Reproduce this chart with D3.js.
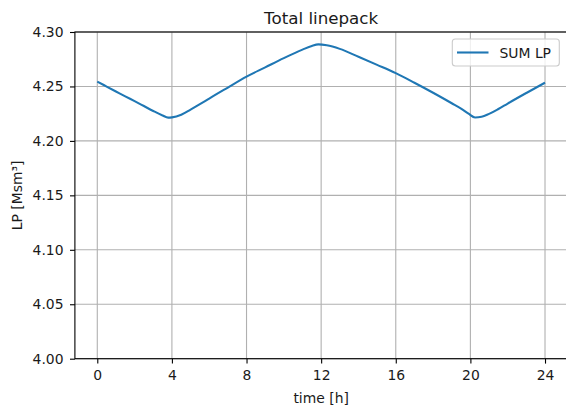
<!DOCTYPE html>
<html>
<head>
<meta charset="utf-8">
<script src="https://cdn.jsdelivr.net/npm/d3@7"></script>
<style>
  body { margin: 0; background: #fff; }
  svg text { font-family: "DejaVu Sans", sans-serif; fill: #1a1a1a; }
</style>
</head>
<body>
<svg class="lpchart"></svg>
<script>
// TOTAL LINEPACK LINE CHART

// values (time in hours, linepack in Msm3)
let hours = [0, 0.5, 1, 1.5, 2, 2.5, 3, 3.5, 3.8, 4, 4.5, 5, 5.5, 6, 7, 8, 9, 10, 11,
             11.5, 11.85, 12.3, 13, 14, 15, 16, 17, 18, 19, 19.5, 19.9, 20.25, 20.6, 21,
             21.5, 22, 23, 24];
let sum_lp = [4.2544, 4.2499, 4.2454, 4.2409, 4.2365, 4.2320, 4.2275, 4.2234, 4.2214, 4.2216,
              4.2240, 4.2287, 4.2337, 4.2389, 4.2490, 4.2590, 4.2675, 4.2760, 4.2838,
              4.2872, 4.2886, 4.2878, 4.2845, 4.2772, 4.2698, 4.2622, 4.2534, 4.2442, 4.2346,
              4.2297, 4.2250, 4.2215, 4.2221, 4.2248, 4.2293, 4.2343, 4.2440, 4.2535];
let x_ticks = [0, 4, 8, 12, 16, 20, 24];
let y_ticks = [4.00, 4.05, 4.10, 4.15, 4.20, 4.25, 4.30];

let w = 566;
let h = 412;

let svg = d3.select("svg.lpchart")
    .attr("width", w)
    .attr("height", h);

let left = 74.9;
let right = 567.4;   // right spine falls just outside the picture
let top_space = 32;
let bottom = 358.7;

let x = d3.scaleLinear()
    .domain([-1.2, 25.2])
    .range([left, right]);

let y = d3.scaleLinear()
    .domain([4.00, 4.30])
    .range([bottom, top_space]);

// grid
let grid = svg.append("g").attr("class", "grid");
grid.selectAll("line.vx")
    .data(x_ticks)
    .enter()
    .append("line")
    .attr("x1", d => x(d)).attr("x2", d => x(d))
    .attr("y1", top_space).attr("y2", bottom)
    .attr("stroke", "#b0b0b0")
    .attr("stroke-width", 1.1);
grid.selectAll("line.hy")
    .data(y_ticks)
    .enter()
    .append("line")
    .attr("x1", left).attr("x2", right)
    .attr("y1", d => y(d)).attr("y2", d => y(d))
    .attr("stroke", "#b0b0b0")
    .attr("stroke-width", 1.1);

// axes
let x_axis = svg.append("g")
    .attr("transform", "translate(0," + bottom + ")")
    .call(d3.axisBottom(x).tickValues(x_ticks).tickFormat(d3.format("d"))
        .tickSize(4.9).tickPadding(6.5));

let y_axis = svg.append("g")
    .attr("transform", "translate(" + left + ",0)")
    .call(d3.axisLeft(y).tickValues(y_ticks).tickFormat(d3.format(".2f"))
        .tickSize(4.9).tickPadding(6.5));

[x_axis, y_axis].forEach(a => {
    a.selectAll("path.domain").remove();
    a.selectAll(".tick line").attr("stroke", "#000").attr("stroke-width", 1.1);
    a.selectAll(".tick text")
        .style("font", "13.9px 'DejaVu Sans', sans-serif")
        .attr("fill", "#1a1a1a");
});

// spines
svg.append("rect")
    .attr("x", left)
    .attr("y", top_space)
    .attr("width", right - left)
    .attr("height", bottom - top_space)
    .attr("fill", "none")
    .attr("stroke", "#000")
    .attr("stroke-width", 1.1);

// the series
let line = d3.line()
    .x((d, i) => x(hours[i]))
    .y(d => y(d))
    .curve(d3.curveMonotoneX);

svg.append("path")
    .datum(sum_lp)
    .attr("d", line)
    .attr("fill", "none")
    .attr("stroke", "#1f77b4")
    .attr("stroke-width", 2.1)
    .attr("stroke-linejoin", "round");

// title and axis labels
svg.append("text")
    .attr("x", (left + right) / 2)
    .attr("y", 23.5)
    .attr("text-anchor", "middle")
    .attr("font-size", "16.7px")
    .text("Total linepack");

svg.append("text")
    .attr("x", (left + right) / 2)
    .attr("y", 402.5)
    .attr("text-anchor", "middle")
    .attr("font-size", "13.9px")
    .text("time [h]");

svg.append("text")
    .attr("transform", "translate(22," + ((top_space + bottom) / 2) + ") rotate(-90)")
    .attr("text-anchor", "middle")
    .attr("font-size", "13.9px")
    .text("LP [Msm³]");

// legend
let legend = svg.append("g").attr("class", "legend");
legend.append("rect")
    .attr("x", 452.3)
    .attr("y", 39)
    .attr("width", 107)
    .attr("height", 27)
    .attr("rx", 3)
    .attr("fill", "#fff")
    .attr("fill-opacity", 0.8)
    .attr("stroke", "#cccccc")
    .attr("stroke-width", 1.1);
legend.append("line")
    .attr("x1", 457).attr("x2", 488.5)
    .attr("y1", 52.5).attr("y2", 52.5)
    .attr("stroke", "#1f77b4")
    .attr("stroke-width", 2.1);
legend.append("text")
    .attr("x", 499.5)
    .attr("y", 57.6)
    .attr("font-size", "13.9px")
    .text("SUM LP");
</script>
</body>
</html>
